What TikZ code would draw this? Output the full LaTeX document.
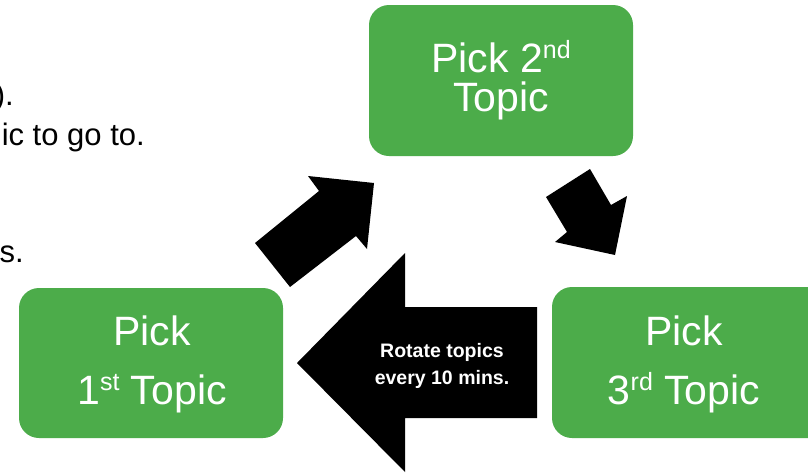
\documentclass[tikz,border=0pt]{standalone}
\usepackage{fontspec}
\setmainfont{Liberation Sans}
\definecolor{boxgreen}{RGB}{76,172,74}
\newcommand\ordsup[1]{\raisebox{14pt}{\fontsize{25}{25}\selectfont #1}}
\tikzset{
  greenbox/.style={fill=boxgreen, rounded corners=20pt, inner sep=0pt, text=white, align=center},
  blockarrow/.style={fill=black, draw=none},
  sidetext/.style={anchor=base east, inner sep=0pt, font=\fontsize{31}{37}\selectfont}
}
\begin{document}
\begin{tikzpicture}[x=1pt,y=-1pt]
\clip (0,0) rectangle (808,474);
\fill[white] (0,0) rectangle (808,474);
% side text (clipped at the left edge, as in the reference)
\node[sidetext] (s1) at (14,105) {).};
\node[sidetext] (s2) at (145,145) {ic to go to.};
\node[sidetext] (s3) at (24,262) {s.};
% boxes
\path[greenbox] (369,5) rectangle (633,156);
\node[greenbox, fill=none, font=\fontsize{41}{39}\selectfont] (t2) at (501,80) {Pick 2\ordsup{nd}\\Topic};
\path[greenbox] (19,288) rectangle (283,438);
\node[greenbox, fill=none, font=\fontsize{41}{59}\selectfont] (t1) at (152,364) {Pick\\1\ordsup{st} Topic};
\path[greenbox] (552,287) rectangle (828,438);
\node[greenbox, fill=none, font=\fontsize{41}{59}\selectfont] (t3) at (684,364) {Pick\\3\ordsup{rd} Topic};
% arrows
\fill[blockarrow] (255,243) -- (319,191) -- (308,176) -- (374,183) -- (367,249) -- (356,236) -- (290,287) -- cycle;
\fill[blockarrow] (546,197) -- (590,169) -- (611,205) -- (627,196) -- (615,255) -- (555,242) -- (567,232) -- cycle;
\fill[blockarrow] (297,363) -- (405,253) -- (405,307) -- (537,307) -- (537,418) -- (405,418) -- (405,472) -- cycle;
\node[text=white, align=center, inner sep=0pt, font=\bfseries\fontsize{19.5}{27}\selectfont] (rot) at (442,366) {Rotate topics\\every 10 mins.};
\end{tikzpicture}
\end{document}
